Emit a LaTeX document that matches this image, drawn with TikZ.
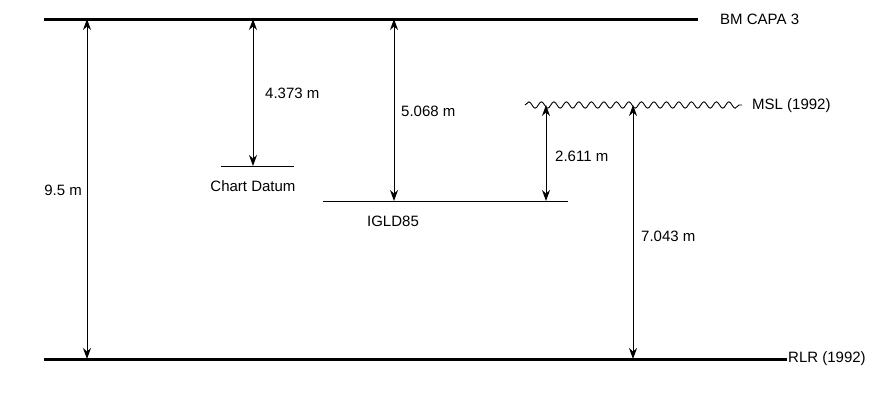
\documentclass[tikz,border=0pt]{standalone}
\usepackage{fontspec}
\setmainfont{Liberation Sans}
\usetikzlibrary{arrows.meta,decorations.pathmorphing}
\begin{document}
\begin{tikzpicture}[x=1pt,y=-1pt,
  level/.style={line width=3pt},
  datum/.style={line width=1pt},
  tip/.tip={Stealth[length=11pt,width=8pt,inset=3.5pt]},
  dim/.style={line width=1pt,tip-tip},
  lbl/.style={font=\fontsize{15}{18}\selectfont,inner sep=0pt},
  wave/.style={line width=0.9pt,decorate,decoration={snake,segment length=12.5pt,amplitude=3.2pt}}]
\useasboundingbox (0,0) rectangle (875,400);

% reference levels
\coordinate (bmL) at (44,19);   \coordinate (bmR) at (698,19);
\coordinate (rlrL) at (44,359); \coordinate (rlrR) at (787,359);
\coordinate (cdL) at (221,166); \coordinate (cdR) at (294,166);
\coordinate (igL) at (323,201); \coordinate (igR) at (568,201);
\coordinate (mslL) at (525,105); \coordinate (mslR) at (742,105);

\draw[level] (bmL) -- (bmR);
\draw[level] (rlrL) -- (rlrR);
\draw[datum] (cdL) -- (cdR);
\draw[datum] (igL) -- (igR);
\draw[wave] (mslL) -- (mslR);

\node[lbl,anchor=west] (bm) at (720,19) {BM CAPA 3};
\node[lbl,anchor=west] (rlr) at (788,359) {RLR (1992)};
\node[lbl,anchor=west] (msl) at (752,106) {MSL (1992)};
\node[lbl] (cd) at (253,186) {Chart Datum};
\node[lbl] (ig) at (393,221) {IGLD85};

% vertical offsets between levels
\coordinate (a1t) at (87,19);  \coordinate (a1b) at (87,359);
\coordinate (a2t) at (253,19); \coordinate (a2b) at (253,166);
\coordinate (a3t) at (394,19); \coordinate (a3b) at (394,201);
\coordinate (a4t) at (546,105); \coordinate (a4b) at (546,201);
\coordinate (a5t) at (633,105); \coordinate (a5b) at (633,359);

\draw[dim] (a1t) -- (a1b);
\draw[dim] (a2t) -- (a2b);
\draw[dim] (a3t) -- (a3b);
\draw[dim] (a4t) -- (a4b);
\draw[dim] (a5t) -- (a5b);

\node[lbl,anchor=east] (d1) at (82,190) {9.5 m};
\node[lbl,anchor=west] (d2) at (265,93) {4.373 m};
\node[lbl,anchor=west] (d3) at (401,111) {5.068 m};
\node[lbl,anchor=west] (d4) at (555,156) {2.611 m};
\node[lbl,anchor=west] (d5) at (641,236) {7.043 m};
\end{tikzpicture}
\end{document}
